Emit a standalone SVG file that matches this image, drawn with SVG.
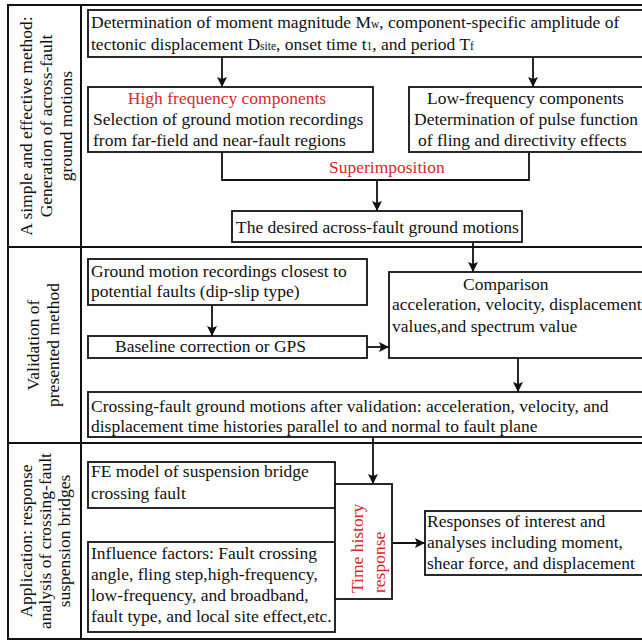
<svg xmlns="http://www.w3.org/2000/svg" width="642" height="641" viewBox="0 0 642 641" font-family="'Liberation Serif', 'Times New Roman', serif">
<defs>
<marker id="ah" markerUnits="userSpaceOnUse" markerWidth="10" markerHeight="10" refX="10" refY="5" orient="auto" viewBox="0 0 10 10">
<path d="M0,0 L10,5 L0,10 L2,5 z" fill="#111"/>
</marker>
<style>
.frame{fill:none;stroke:#111;stroke-width:2}
.box{fill:#fff;stroke:#111;stroke-width:1.8}
.t{font-size:17.5px;fill:#111}
.r{fill:#d8282c}
.sub{font-size:11.5px}
.c{fill:none;stroke:#111;stroke-width:1.8}
.ca{fill:none;stroke:#111;stroke-width:1.8;marker-end:url(#ah)}
</style>
</defs>
<rect width="642" height="641" fill="#fff"/>

<g id="frame">
<rect class="frame" x="8" y="5" width="650" height="634"/>
<line class="frame" x1="81" y1="5" x2="81" y2="639"/>
<line class="frame" x1="8" y1="247" x2="660" y2="247"/>
<line class="frame" x1="8" y1="443" x2="660" y2="443"/>
</g>

<g id="lane1-label">
<text class="t" transform="translate(32,126) rotate(-90)" text-anchor="middle">A simple and effective method:</text>
<text class="t" transform="translate(52,126) rotate(-90)" text-anchor="middle">Generation of across-fault</text>
<text class="t" transform="translate(72,126) rotate(-90)" text-anchor="middle">ground motions</text>
</g>
<g id="lane2-label">
<text class="t" transform="translate(39,345) rotate(-90)" text-anchor="middle">Validation of</text>
<text class="t" transform="translate(59,345) rotate(-90)" text-anchor="middle">presented method</text>
</g>
<g id="lane3-label">
<text class="t" transform="translate(32,541) rotate(-90)" text-anchor="middle">Application: response</text>
<text class="t" transform="translate(51,541) rotate(-90)" text-anchor="middle">analysis of crossing-fault</text>
<text class="t" transform="translate(70,541) rotate(-90)" text-anchor="middle">suspension bridges</text>
</g>

<g id="connectors">
<line class="ca" x1="222" y1="57" x2="222" y2="87"/>
<line class="ca" x1="533" y1="57" x2="533" y2="87"/>
<polyline class="c" points="222,152 222,180 529,180 529,152"/>
<line class="ca" x1="377" y1="180" x2="377" y2="211"/>
<line class="ca" x1="473" y1="242" x2="473" y2="272"/>
<line class="ca" x1="212" y1="305" x2="212" y2="336"/>
<line class="ca" x1="367" y1="347" x2="389" y2="347"/>
<line class="ca" x1="518" y1="358" x2="518" y2="392"/>
<line class="ca" x1="373" y1="437" x2="373" y2="484"/>
<line class="ca" x1="392" y1="543" x2="425" y2="543"/>
<text class="t r" x="329" y="173">Superimposition</text>
</g>

<g id="n-determination">
<rect class="box" x="88" y="10" width="570" height="47"/>
<text class="t" x="91" y="28">Determination of moment magnitude M<tspan class="sub">w</tspan>, component-specific amplitude of</text>
<text class="t" x="91" y="50">tectonic displacement D<tspan class="sub">site</tspan>, onset time t<tspan class="sub">1</tspan>, and period T<tspan class="sub">f</tspan></text>
</g>

<g id="n-high">
<rect class="box" x="88" y="87" width="285" height="65"/>
<text class="t r" x="227" y="104" text-anchor="middle">High frequency components</text>
<text class="t" x="93" y="125">Selection of ground motion recordings</text>
<text class="t" x="93" y="146">from far-field and near-fault regions</text>
</g>

<g id="n-low">
<rect class="box" x="409" y="87" width="250" height="65"/>
<text class="t" x="427" y="104">Low-frequency components</text>
<text class="t" x="414" y="125">Determination of  pulse function</text>
<text class="t" x="418" y="146">of fling and directivity effects</text>
</g>

<g id="n-desired">
<rect class="box" x="232" y="211" width="290" height="31"/>
<text class="t" x="236" y="233">The desired across-fault ground motions</text>
</g>

<g id="n-ground">
<rect class="box" x="88" y="259" width="279" height="46"/>
<text class="t" x="91" y="277">Ground motion recordings closest to</text>
<text class="t" x="91" y="297">potential faults (dip-slip type)</text>
</g>

<g id="n-baseline">
<rect class="box" x="88" y="336" width="279" height="22"/>
<text class="t" x="115" y="352">Baseline correction or GPS</text>
</g>

<g id="n-comparison">
<rect class="box" x="389" y="272" width="270" height="86"/>
<text class="t" x="463" y="290">Comparison</text>
<text class="t" x="392" y="310">acceleration, velocity, displacement</text>
<text class="t" x="392" y="332">values,and spectrum value</text>
</g>

<g id="n-crossing">
<rect class="box" x="88" y="392" width="570" height="45"/>
<text class="t" x="91" y="412">Crossing-fault ground motions after validation: acceleration, velocity, and</text>
<text class="t" x="91" y="432">displacement time histories parallel to and normal to fault plane</text>
</g>

<g id="n-fe">
<rect class="box" x="88" y="462" width="247" height="46"/>
<text class="t" x="91" y="477">FE model of suspension bridge</text>
<text class="t" x="91" y="499">crossing fault</text>
</g>

<g id="n-influence">
<rect class="box" x="88" y="542" width="247" height="90"/>
<text class="t" x="91" y="559">Influence factors: Fault crossing</text>
<text class="t" x="91" y="580">angle, fling step,high-frequency,</text>
<text class="t" x="91" y="601">low-frequency, and broadband,</text>
<text class="t" x="91" y="622">fault type, and local site effect,etc.</text>
</g>

<g id="n-timehistory">
<rect class="box" x="335" y="484" width="57" height="115"/>
<text class="t r" transform="translate(363,593) rotate(-90)">Time history</text>
<text class="t r" transform="translate(385,593) rotate(-90)">response</text>
</g>

<g id="n-responses">
<rect class="box" x="425" y="511" width="234" height="64"/>
<text class="t" x="427" y="527">Responses of interest and</text>
<text class="t" x="427" y="548">analyses including moment,</text>
<text class="t" x="427" y="569">shear force, and displacement</text>
</g>
</svg>
